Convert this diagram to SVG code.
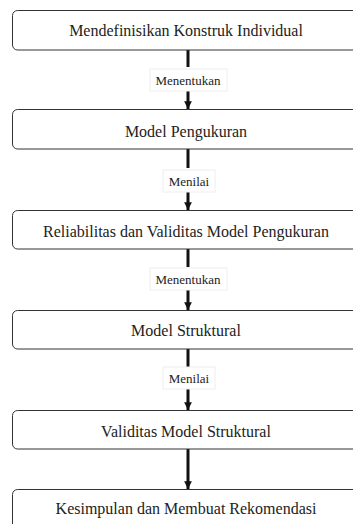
<svg xmlns="http://www.w3.org/2000/svg" width="353" height="524" viewBox="0 0 353 524">
<style>
.box{fill:#fff;stroke:#333;stroke-width:1}
.t{font-family:"Liberation Serif","Times New Roman",serif;font-size:16px;fill:#222;text-anchor:middle;dominant-baseline:central}
.l{font-family:"Liberation Serif","Times New Roman",serif;font-size:13px;fill:#222;text-anchor:middle;dominant-baseline:central}
.c{stroke:#111;stroke-width:3;fill:none}
.lb{fill:#fff;stroke:#eeeeee;stroke-width:1}
</style>
<defs>
<marker id="ah" viewBox="0 0 10 10" refX="10" refY="5" markerWidth="2.6" markerHeight="2.6" orient="auto" markerUnits="strokeWidth">
<path d="M0,0 L10,5 L0,10 Z" fill="#111"/>
</marker>
</defs>
<rect width="353" height="524" fill="#fff"/>
<g id="connectors">
<line class="c" x1="188" y1="50" x2="188" y2="67"/>
<line class="c" x1="188" y1="89" x2="188" y2="109" marker-end="url(#ah)"/>
<line class="c" x1="188" y1="149" x2="188" y2="168"/>
<line class="c" x1="188" y1="189" x2="188" y2="210" marker-end="url(#ah)"/>
<line class="c" x1="188" y1="249" x2="188" y2="267"/>
<line class="c" x1="188" y1="290" x2="188" y2="310" marker-end="url(#ah)"/>
<line class="c" x1="188" y1="349" x2="188" y2="367"/>
<line class="c" x1="188" y1="389" x2="188" y2="410" marker-end="url(#ah)"/>
<line class="c" x1="188" y1="449" x2="188" y2="489" marker-end="url(#ah)"/>
<rect class="lb" x="150" y="69" width="77" height="22"/>
<text class="l" x="188" y="80">Menentukan</text>
<rect class="lb" x="163" y="170" width="52" height="22"/>
<text class="l" x="189" y="181">Menilai</text>
<rect class="lb" x="150" y="268" width="77" height="22"/>
<text class="l" x="188" y="279">Menentukan</text>
<rect class="lb" x="163" y="367" width="52" height="22"/>
<text class="l" x="189" y="378">Menilai</text>
</g>
<g id="n1"><rect class="box" x="12.5" y="10.5" width="350" height="39.5" rx="5"/><text class="t" x="186" y="30">Mendefinisikan Konstruk Individual</text></g>
<g id="n2"><rect class="box" x="12.5" y="109.5" width="350" height="39.5" rx="5"/><text class="t" x="186" y="131">Model Pengukuran</text></g>
<g id="n3"><rect class="box" x="12.5" y="210.5" width="350" height="38.5" rx="5"/><text class="t" x="186" y="231">Reliabilitas dan Validitas Model Pengukuran</text></g>
<g id="n4"><rect class="box" x="12.5" y="310.5" width="350" height="38.5" rx="5"/><text class="t" x="186" y="330">Model Struktural</text></g>
<g id="n5"><rect class="box" x="12.5" y="410.5" width="350" height="38.5" rx="5"/><text class="t" x="186" y="431">Validitas Model Struktural</text></g>
<g id="n6"><rect class="box" x="12.5" y="489.5" width="350" height="50" rx="5"/><text class="t" x="186" y="508">Kesimpulan dan Membuat Rekomendasi</text></g>
</svg>
